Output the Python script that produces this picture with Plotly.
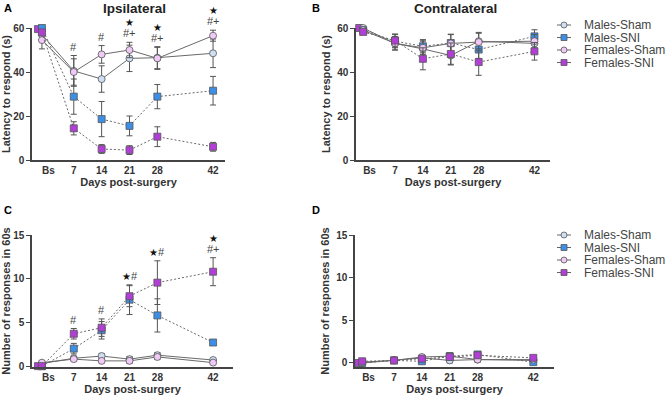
import plotly.graph_objects as go

# --- DATA ---
days = [-1, 7, 14, 21, 28, 42]
tick_pos = [0.6, 7, 14, 21, 28, 42]
tick_labels = ["Bs", "7", "14", "21", "28", "42"]
series_names = ["Males-Sham", "Males-SNI", "Females-Sham", "Females-SNI"]

# A - Ipsilateral latency (s)
males_sham_A = [57, 40.5, 36.8, 46.2, 46.5, 48.5]
males_sham_A_err = [3, 7, 6, 6, 5, 6.5]
males_sni_A = [60, 28.8, 18.6, 15.5, 28.8, 31.5]
males_sni_A_err = [1, 8, 8, 4.5, 5.5, 6.5]
females_sham_A = [54.5, 40, 48, 50, 46.2, 56.5]
females_sham_A_err = [4, 6, 4, 3.5, 5, 2.5]
females_sni_A = [58, 14.4, 5, 4.5, 10.6, 6]
females_sni_A_err = [1, 3, 2, 2, 4.5, 2]
females_sni_A_pre = 59.5

# B - Contralateral latency (s)
males_sham_B = [60, 53, 50.5, 47.5, 54, 53]
males_sham_B_err = [1, 3, 4, 4, 4, 3]
males_sni_B = [59, 54, 51.7, 53.2, 50.2, 56.2]
males_sni_B_err = [1, 3, 3, 4, 4, 3]
females_sham_B = [59, 53, 51, 53, 53.6, 54]
females_sham_B_err = [1, 3, 3, 4, 4, 3]
females_sni_B = [58.2, 54.3, 46, 48.2, 44.5, 49.4]
females_sni_B_err = [1, 3, 5, 5, 6, 4]
females_sni_B_pre = 60

# C - Ipsilateral responses in 60s
males_sham_C = [0.3, 0.9, 1.15, 0.8, 1.25, 0.7]
males_sham_C_err = [0.1, 0.2, 0.3, 0.3, 0.3, 0.2]
males_sni_C = [0, 2.0, 4.1, 7.6, 5.8, 2.7]
males_sni_C_err = [0, 0.6, 1.0, 1.7, 1.9, 0.3]
females_sham_C = [0.4, 0.8, 0.6, 0.6, 1.05, 0.4]
females_sham_C_err = [0.1, 0.2, 0.2, 0.3, 0.3, 0.2]
females_sni_C = [0, 3.7, 4.4, 8.0, 9.55, 10.8]
females_sni_C_err = [0, 0.6, 1.0, 1.2, 2.5, 1.6]
females_sni_C_pre = 0

# D - Contralateral responses in 60s
males_sham_D = [0, 0.35, 0.6, 0.3, 0.4, 0.3]
males_sham_D_err = [0, 0.1, 0.2, 0.3, 0.3, 0.1]
males_sni_D = [0, 0.3, 0.2, 0.8, 1.0, 0.1]
males_sni_D_err = [0, 0.1, 0.2, 0.4, 0.3, 0.1]
females_sham_D = [0.1, 0.3, 0.7, 0.8, 0.4, 0.4]
females_sham_D_err = [0, 0.1, 0.2, 0.3, 0.2, 0.1]
females_sni_D = [0.2, 0.3, 0.5, 0.7, 0.9, 0.6]
females_sni_D_err = [0, 0.1, 0.2, 0.3, 0.3, 0.2]
females_sni_D_pre = 0

# significance labels per day ("|" splits stacked lines, top first)
sig_A = ["", "#", "#", "*|#+", "*|#+", "*|#+"]
sig_C = ["", "#", "#", "*#", "*#", "*|#+"]

W, H = 669, 400
FONT = "Liberation Sans, Arial, sans-serif"
styles = {
    "Males-Sham": dict(symbol="circle", fill="#cfdff3"),
    "Males-SNI": dict(symbol="square", fill="#3d8fe6"),
    "Females-Sham": dict(symbol="circle", fill="#efcaf6"),
    "Females-SNI": dict(symbol="square", fill="#b13fd6"),
}
line_dash = {"Males-Sham": "solid", "Males-SNI": "2px,2px",
             "Females-Sham": "solid", "Females-SNI": "2px,2px"}


def px_x(p):
    return p / W


def px_y(p):
    return 1 - p / H


panels = {
    "A": dict(xa="x", ya="y",
              data=[(males_sham_A, males_sham_A_err), (males_sni_A, males_sni_A_err),
                    (females_sham_A, females_sham_A_err), (females_sni_A, females_sni_A_err)],
              pre=females_sni_A_pre, sig=sig_A),
    "B": dict(xa="x2", ya="y2",
              data=[(males_sham_B, males_sham_B_err), (males_sni_B, males_sni_B_err),
                    (females_sham_B, females_sham_B_err), (females_sni_B, females_sni_B_err)],
              pre=females_sni_B_pre, sig=None),
    "C": dict(xa="x3", ya="y3",
              data=[(males_sham_C, males_sham_C_err), (males_sni_C, males_sni_C_err),
                    (females_sham_C, females_sham_C_err), (females_sni_C, females_sni_C_err)],
              pre=females_sni_C_pre, sig=sig_C),
    "D": dict(xa="x4", ya="y4",
              data=[(males_sham_D, males_sham_D_err), (males_sni_D, males_sni_D_err),
                    (females_sham_D, females_sham_D_err), (females_sni_D, females_sni_D_err)],
              pre=females_sni_D_pre, sig=None),
}

fig = go.Figure()
annotations = []

for key, p in panels.items():
    # extra baseline point of Females-SNI
    st = styles["Females-SNI"]
    fig.add_trace(go.Scatter(
        x=[days[0] - 1], y=[p["pre"]], mode="markers", xaxis=p["xa"], yaxis=p["ya"],
        marker=dict(symbol=st["symbol"], size=7, color=st["fill"],
                    line=dict(color="#555", width=0.8)),
        showlegend=False, cliponaxis=False, hoverinfo="skip"))
    for name, (vals, errs) in zip(series_names, p["data"]):
        st = styles[name]
        fig.add_trace(go.Scatter(
            x=days, y=vals, name=name, mode="lines+markers",
            xaxis=p["xa"], yaxis=p["ya"],
            line=dict(color="#6a6a6a", width=1, dash=line_dash[name]),
            marker=dict(symbol=st["symbol"], size=7, color=st["fill"],
                        line=dict(color="#555", width=0.8)),
            error_y=dict(type="data", array=errs, color="#555", thickness=1, width=3),
            showlegend=False, cliponaxis=False))
    if p["sig"]:
        for i, lab in enumerate(p["sig"]):
            if not lab:
                continue
            top = max(d[0][i] + d[1][i] for d in p["data"])
            lines = lab.split("|")[::-1]
            for j, ln in enumerate(lines):
                txt = ln.replace("*", "<span style='font-size:10px;color:#111'>★</span>")
                annotations.append(dict(
                    x=days[i], y=top, xref=p["xa"], yref=p["ya"], text=txt,
                    showarrow=False, xanchor="center", yanchor="bottom", yshift=1 + 11 * j,
                    font=dict(family=FONT, size=11, color="#444")))

title_font = dict(family=FONT, size=11, color="#333", weight="bold")
axis_common = dict(showgrid=False, zeroline=False, showline=True, linecolor="#444",
                   linewidth=1.5, automargin=False,
                   tickfont=dict(family=FONT, size=10, color="#333", weight="bold"))
xa_common = dict(axis_common, tickmode="array", tickvals=tick_pos, ticktext=tick_labels,
                 ticks="", title=dict(text="Days post-surgery", standoff=4, font=title_font))
ya_common = dict(axis_common, ticks="outside", ticklen=4, tickwidth=1, tickcolor="#444")

fig.update_layout(
    width=W, height=H, margin=dict(l=0, r=0, t=0, b=0, autoexpand=False),
    paper_bgcolor="white", plot_bgcolor="white", showlegend=False,
    xaxis=dict(xa_common, domain=[px_x(32), px_x(225)], range=[-3.5, 45], anchor="y"),
    yaxis=dict(ya_common, domain=[px_y(160), px_y(28)], range=[0, 60], tickvals=[0, 20, 40, 60],
               anchor="x", title=dict(text="Latency to respond (s)", standoff=4, font=title_font)),
    xaxis2=dict(xa_common, domain=[px_x(356), px_x(550)], range=[-2.8, 45.9], anchor="y2"),
    yaxis2=dict(ya_common, domain=[px_y(160), px_y(28)], range=[0, 60], tickvals=[0, 20, 40, 60],
                anchor="x2", title=dict(text="Latency to respond (s)", standoff=4, font=title_font)),
    xaxis3=dict(xa_common, domain=[px_x(32), px_x(233)], range=[-3.5, 47], anchor="y3"),
    yaxis3=dict(ya_common, domain=[px_y(367), px_y(235)], range=[-0.1, 15], tickvals=[0, 5, 10, 15],
                anchor="x3", title=dict(text="Number of responses in 60s", standoff=4, font=title_font)),
    xaxis4=dict(xa_common, domain=[px_x(355), px_x(554)], range=[-2.8, 47.2], anchor="y4"),
    yaxis4=dict(ya_common, domain=[px_y(367), px_y(235)], range=[-0.47, 15], tickvals=[0, 5, 10, 15],
                anchor="x4", title=dict(text="Number of responses in 60s", standoff=4, font=title_font)),
)

# panel titles and letters
for txt, x, y in [("Ipsilateral", 134, 9), ("Contralateral", 455, 9)]:
    annotations.append(dict(x=px_x(x), y=px_y(y), xref="paper", yref="paper", text=txt,
                            showarrow=False, xanchor="center", yanchor="middle",
                            font=dict(family=FONT, size=13.5, color="#222", weight="bold")))
for txt, x, y in [("A", 8, 8), ("B", 316, 8), ("C", 8, 210), ("D", 316, 210)]:
    annotations.append(dict(x=px_x(x), y=px_y(y), xref="paper", yref="paper", text=txt,
                            showarrow=False, xanchor="center", yanchor="middle",
                            font=dict(family=FONT, size=11, color="#000", weight="bold")))

# hand-drawn legends (compact row spacing like the original)
shapes = []
for top in (25, 235):
    for k, name in enumerate(series_names):
        st = styles[name]
        yy = top + k * 12.5
        shapes.append(dict(type="line", xref="paper", yref="paper",
                           x0=px_x(557), x1=px_x(571), y0=px_y(yy), y1=px_y(yy),
                           line=dict(color="#666", width=1)))
        shapes.append(dict(type="circle" if st["symbol"] == "circle" else "rect",
                           xref="paper", yref="paper",
                           x0=px_x(561), x1=px_x(567), y0=px_y(yy + 3), y1=px_y(yy - 3),
                           fillcolor=st["fill"], line=dict(color="#555", width=0.8)))
        annotations.append(dict(x=px_x(582), y=px_y(yy), xref="paper", yref="paper", text=name,
                                showarrow=False, xanchor="left", yanchor="middle",
                                font=dict(family=FONT, size=12, color="#444")))

fig.update_layout(annotations=annotations, shapes=shapes)
# page body has a default 8px margin; drop it so the figure sits at the window corner
fig.write_html("out.html", config={"displayModeBar": False},
               post_script="document.body.style.margin='0px';")
